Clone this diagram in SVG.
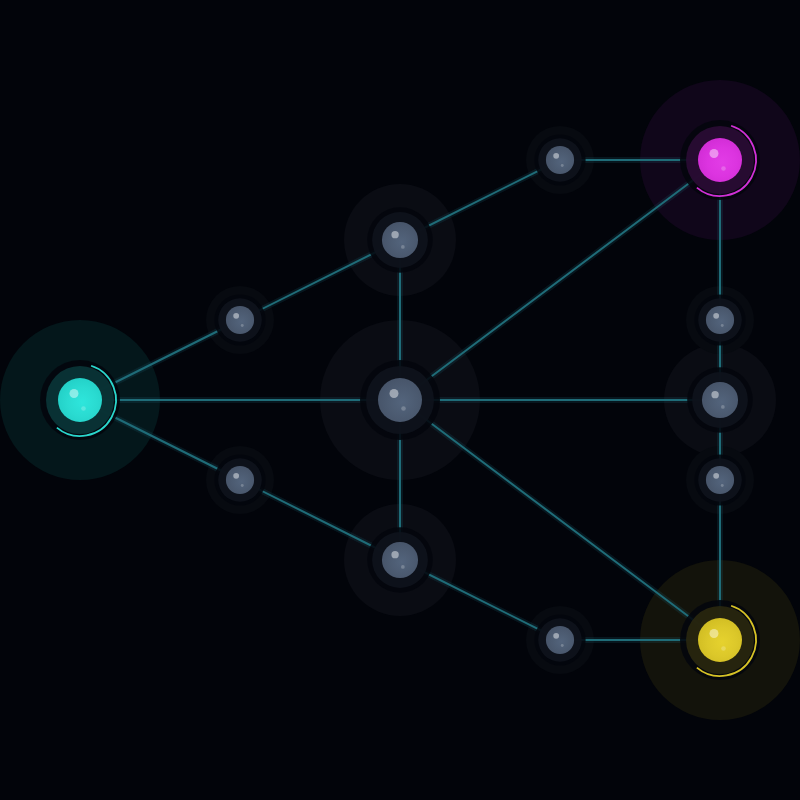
<svg xmlns="http://www.w3.org/2000/svg" width="800" height="800" viewBox="0 0 800 800">
<style>
.edge{stroke:#1f6c78;stroke-width:2;fill:none}
.glow{stroke:#1f6c78;stroke-width:6;fill:none;opacity:0.18}
.ring{fill:#03060c;opacity:0.88}
.hl{fill:#ffffff;opacity:0.45}
.dot{fill:#ffffff;opacity:0.22}
.arc{fill:none;stroke-width:1.8}
</style>
<defs>
<radialGradient id="gC" cx="0.55" cy="0.55" r="0.6"><stop offset="0" stop-color="#2ee6dc"/><stop offset="0.55" stop-color="#2adbd1"/><stop offset="1" stop-color="#22cfc6"/></radialGradient>
<radialGradient id="gM" cx="0.55" cy="0.55" r="0.6"><stop offset="0" stop-color="#e23ce6"/><stop offset="0.55" stop-color="#dc34e0"/><stop offset="1" stop-color="#d02cd4"/></radialGradient>
<radialGradient id="gY" cx="0.55" cy="0.55" r="0.6"><stop offset="0" stop-color="#e6d22e"/><stop offset="0.55" stop-color="#dcc82a"/><stop offset="1" stop-color="#d0bc22"/></radialGradient>
<radialGradient id="gG" cx="0.55" cy="0.55" r="0.6"><stop offset="0" stop-color="#53647c"/><stop offset="0.55" stop-color="#4c5b71"/><stop offset="1" stop-color="#465368"/></radialGradient>
<g id="coreG">
<circle r="40" class="ring"/><circle r="34" fill="#0e131c" opacity="0.9"/><circle r="22" fill="url(#gG)"/><circle cx="-6" cy="-6.5" r="4.5" class="hl"/><circle cx="3.5" cy="8.5" r="2.3" class="dot"/>
</g>
</defs>
<rect width="800" height="800" fill="#02040a"/>
<g id="halos">
<circle cx="80" cy="400" r="80" fill="#04171b"/>
<circle cx="720" cy="160" r="80" fill="#10061a"/>
<circle cx="720" cy="640" r="80" fill="#13130b"/>
<circle cx="400" cy="400" r="80" fill="#0a0c13"/>
<circle cx="400" cy="240" r="56" fill="#0a0c13"/>
<circle cx="400" cy="560" r="56" fill="#0a0c13"/>
<circle cx="720" cy="400" r="56" fill="#0a0c13"/>
<circle cx="240" cy="320" r="34" fill="#070a10"/>
<circle cx="240" cy="480" r="34" fill="#070a10"/>
<circle cx="560" cy="160" r="34" fill="#070a10"/>
<circle cx="560" cy="640" r="34" fill="#070a10"/>
<circle cx="720" cy="320" r="34" fill="#070a10"/>
<circle cx="720" cy="480" r="34" fill="#070a10"/>
</g>
<g id="connectors">
<path class="glow" d="M80 400L240 320L400 240L560 160L720 160M80 400L240 480L400 560L560 640L720 640M80 400L720 400M400 240L400 560M400 400L720 160M400 400L720 640M720 160L720 640"/>
<path class="edge" d="M80 400L240 320L400 240L560 160L720 160M80 400L240 480L400 560L560 640L720 640M80 400L720 400M400 240L400 560M400 400L720 160M400 400L720 640M720 160L720 640"/>
</g>
<g id="node-cyan" transform="translate(80 400)">
<circle r="40" class="ring"/><circle r="34" fill="#0a3537" opacity="0.92"/>
<path class="arc" stroke="#2ad6cc" d="M11.12 -34.24A36 36 0 1 1 -23.14 27.58"/>
<circle r="22" fill="url(#gC)"/><circle cx="-6" cy="-6.5" r="4.5" class="hl"/><circle cx="3.5" cy="8.5" r="2.3" class="dot"/>
</g>
<g id="node-magenta" transform="translate(720 160)">
<circle r="40" class="ring"/><circle r="34" fill="#2a0c34" opacity="0.92"/>
<path class="arc" stroke="#d030d6" d="M11.12 -34.24A36 36 0 1 1 -23.14 27.58"/>
<circle r="22" fill="url(#gM)"/><circle cx="-6" cy="-6.5" r="4.5" class="hl"/><circle cx="3.5" cy="8.5" r="2.3" class="dot"/>
</g>
<g id="node-yellow" transform="translate(720 640)">
<circle r="40" class="ring"/><circle r="34" fill="#29270f" opacity="0.92"/>
<path class="arc" stroke="#d6c226" d="M11.12 -34.24A36 36 0 1 1 -23.14 27.58"/>
<circle r="22" fill="url(#gY)"/><circle cx="-6" cy="-6.5" r="4.5" class="hl"/><circle cx="3.5" cy="8.5" r="2.3" class="dot"/>
</g>
<g id="node-center"><use href="#coreG" transform="translate(400 400)"/></g>
<g id="node-top"><use href="#coreG" transform="translate(400 240) scale(0.82)"/></g>
<g id="node-bottom"><use href="#coreG" transform="translate(400 560) scale(0.82)"/></g>
<g id="node-right"><use href="#coreG" transform="translate(720 400) scale(0.82)"/></g>
<g id="node-s1"><use href="#coreG" transform="translate(240 320) scale(0.64)"/></g>
<g id="node-s2"><use href="#coreG" transform="translate(240 480) scale(0.64)"/></g>
<g id="node-s3"><use href="#coreG" transform="translate(560 160) scale(0.64)"/></g>
<g id="node-s4"><use href="#coreG" transform="translate(560 640) scale(0.64)"/></g>
<g id="node-s5"><use href="#coreG" transform="translate(720 320) scale(0.64)"/></g>
<g id="node-s6"><use href="#coreG" transform="translate(720 480) scale(0.64)"/></g>
</svg>
